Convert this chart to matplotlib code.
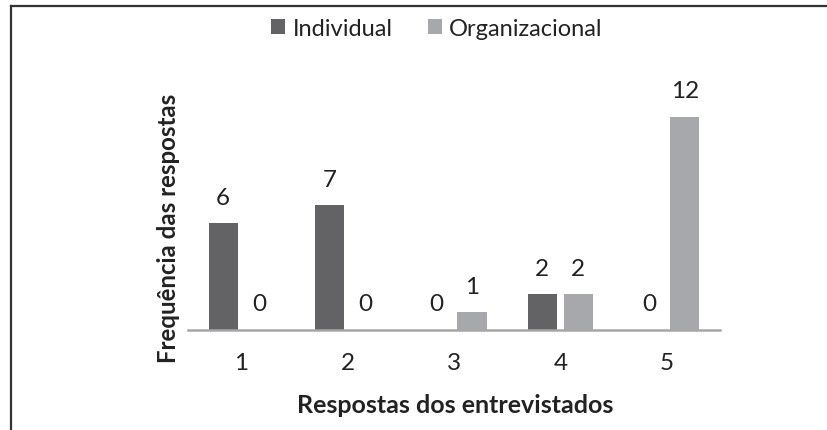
import matplotlib
matplotlib.use("Agg")
import matplotlib.pyplot as plt
from matplotlib.patches import Patch
from matplotlib.lines import Line2D

# data
categories = ["1", "2", "3", "4", "5"]
individual = [6, 7, 0, 2, 0]
organizacional = [0, 0, 1, 2, 12]
series_names = ["Individual", "Organizacional"]

dark = "#636366"
light = "#a7a8ab"
text_color = "#222222"

plt.rcParams['font.family'] = ['Lato', 'DejaVu Sans']
plt.rcParams['font.size'] = 17.5

W, H = 827, 431
fig = plt.figure(figsize=(W / 100, H / 100), dpi=100)

# plot area in pixels (left, baseline, right, top)
x0, y_base, x1 = 188, 330.5, 720
px_per_unit = 17.75
ymax = 14
ax = fig.add_axes([x0 / W, (H - y_base) / H, (x1 - x0) / W, ymax * px_per_unit / H])

xs = list(range(1, len(categories) + 1))
bw = 0.273
off = 0.169
ax.bar([x - off for x in xs], individual, width=bw, color=dark, zorder=2)
ax.bar([x + off for x in xs], organizacional, width=bw, color=light, zorder=2)

for x, v in zip(xs, individual):
    ax.annotate(str(v), (x - off, v), xytext=(0, 18.5), textcoords="offset points",
                ha="center", va="center", color=text_color)
for x, v in zip(xs, organizacional):
    ax.annotate(str(v), (x + off, v), xytext=(0, 18.5), textcoords="offset points",
                ha="center", va="center", color=text_color)

ax.set_xlim(0.5, 5.5)
ax.set_ylim(0, ymax)
ax.set_xticks(xs)
ax.set_xticklabels(categories, color=text_color)
ax.tick_params(axis="x", length=0, pad=16)
ax.set_yticks([])
for s in ["top", "right", "left"]:
    ax.spines[s].set_visible(False)
ax.spines["bottom"].set_color("#a6a6a6")
ax.spines["bottom"].set_linewidth(1.8)
ax.set_facecolor("none")

fig.text(455 / W, 1 - 406 / H, "Respostas dos entrevistados", ha="center", va="center",
         fontsize=18, fontweight="bold", color=text_color)
fig.text(169 / W, 1 - 228.5 / H, "Frequência das respostas", ha="center", va="center",
         rotation=90, fontsize=17.3, fontweight="bold", color=text_color)

handles = [Patch(facecolor=dark, edgecolor="none"), Patch(facecolor=light, edgecolor="none")]
fig.legend(handles, series_names, loc="center", bbox_to_anchor=(437 / W, 1 - 29 / H),
           ncol=2, frameon=False, handlelength=0.6, handleheight=0.6, fontsize=17,
           handletextpad=0.3, columnspacing=1.5, labelcolor=text_color)

# frame lines on the top and left edge
fig.add_artist(Line2D([11 / W, 1], [1 - 6.5 / H, 1 - 6.5 / H], color="#333333", lw=1.6))
fig.add_artist(Line2D([11 / W, 11 / W], [0, 1 - 6.5 / H], color="#333333", lw=1.6))

fig.savefig("out.png", dpi=100)
